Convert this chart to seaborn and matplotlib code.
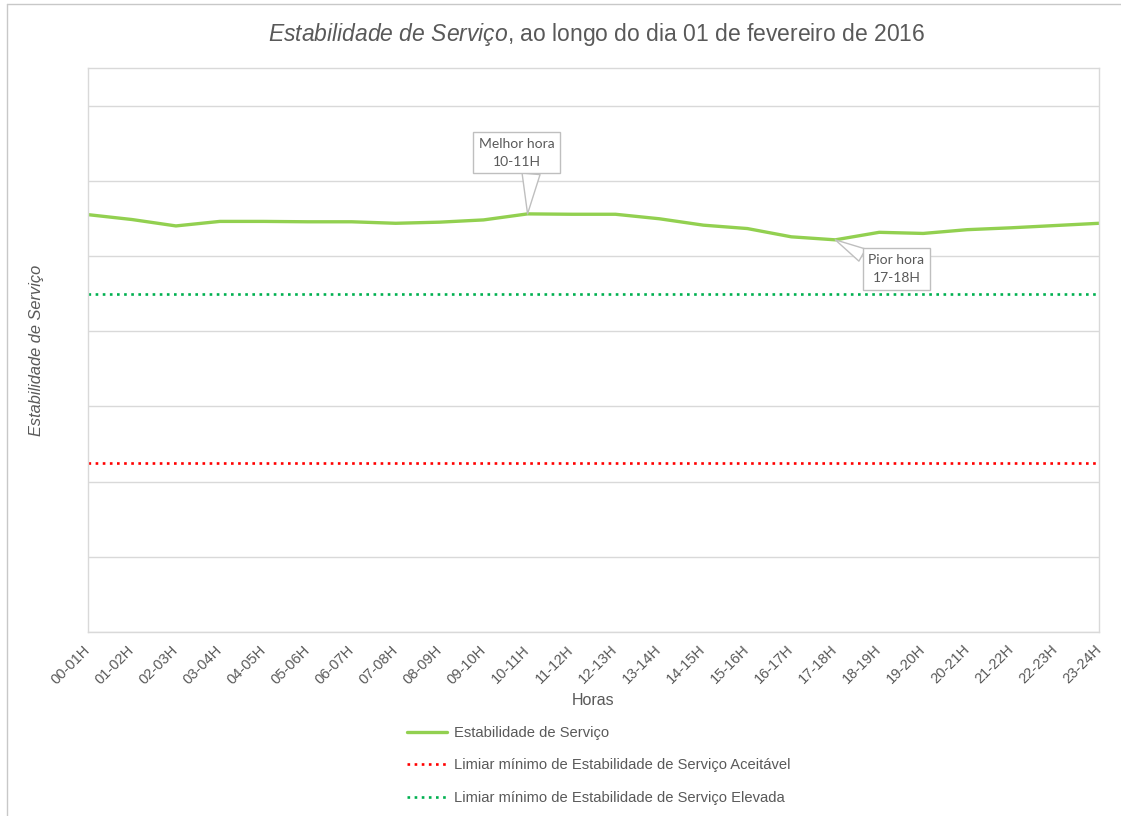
import matplotlib
matplotlib.use("Agg")
import matplotlib.pyplot as plt
from matplotlib.lines import Line2D
import numpy as np
import pandas as pd
import seaborn as sns

# ---------------------------------------------------------------------------
# data
# ---------------------------------------------------------------------------
horas = ["00-01H", "01-02H", "02-03H", "03-04H", "04-05H", "05-06H",
         "06-07H", "07-08H", "08-09H", "09-10H", "10-11H", "11-12H",
         "12-13H", "13-14H", "14-15H", "15-16H", "16-17H", "17-18H",
         "18-19H", "19-20H", "20-21H", "21-22H", "22-23H", "23-24H"]
estabilidade = [111.0, 109.7, 108.0, 109.2, 109.2, 109.1, 109.1, 108.7,
                109.0, 109.6, 111.2, 111.1, 111.1, 109.9, 108.2, 107.3,
                105.1, 104.3, 106.3, 106.0, 107.0, 107.5, 108.1, 108.7]
limiar_aceitavel = 45
limiar_elevada = 90
y_max = 150
y_step = 20

TXT = "#595959"
GRID = "#d9d9d9"

sns.set_theme(style="white")
plt.rcParams["font.family"] = ["Liberation Sans", "DejaVu Sans"]
plt.rcParams["mathtext.fontset"] = "custom"
plt.rcParams["mathtext.rm"] = "Liberation Sans"
plt.rcParams["mathtext.it"] = "Liberation Sans:italic"

df = pd.DataFrame({"pos": np.arange(len(horas)), "hora": horas,
                   "valor": estabilidade})

fig = plt.figure(figsize=(11.21, 8.16), dpi=100)
ax = fig.add_axes([88 / 1121, 1 - 632 / 816, 1011 / 1121, 564 / 816])

ax.set_yticks(np.arange(0, y_max, y_step))
ax.yaxis.grid(True, color=GRID, linewidth=1)
ax.set_axisbelow(True)

sns.lineplot(data=df, x="pos", y="valor", color="#92d050", linewidth=2.4,
             ax=ax, label="Estabilidade de Serviço")
ax.axhline(limiar_aceitavel, color="#ff0000", linewidth=1.9,
           linestyle=(0, (1, 1.7)),
           label="Limiar mínimo de Estabilidade de Serviço Aceitável")
ax.axhline(limiar_elevada, color="#00b050", linewidth=1.9,
           linestyle=(0, (1, 1.7)),
           label="Limiar mínimo de Estabilidade de Serviço Elevada")

ax.set_xlim(0, len(horas) - 1)
ax.set_ylim(0, y_max)
ax.set_xticks(df["pos"])
ax.set_xticklabels(horas, rotation=45, ha="right", va="center",
                   rotation_mode="anchor", fontsize=10.5, color=TXT)
ax.tick_params(axis="x", length=3, width=1, color=GRID, pad=8.2)
ax.tick_params(axis="y", length=0, labelleft=False)
for sp in ax.spines.values():
    sp.set_color(GRID)
    sp.set_linewidth(1)

ax.set_xlabel("Horas", fontsize=11.5, color=TXT)
ax.xaxis.set_label_coords(0.5, -0.108)
ax.set_ylabel("Estabilidade de Serviço", fontsize=11.8, color=TXT,
              style="italic")
ax.yaxis.set_label_coords(-0.0435, 0.5)

# callouts for best and worst hour
melhor = int(np.argmax(estabilidade))
pior = int(np.argmin(estabilidade))
box = dict(boxstyle="square,pad=0.4", fc="white", ec="#bfbfbf", lw=1)
ax.annotate(f"Melhor hora\n{horas[melhor]}", xy=(melhor, estabilidade[melhor]),
            xytext=(-8, 44), textcoords="offset points", ha="center",
            va="center", fontsize=10, color=TXT, family="Lato",
            linespacing=1.6, bbox=box,
            arrowprops=dict(arrowstyle="wedge,tail_width=1.3", fc="white",
                            ec="#bfbfbf", lw=1, relpos=(0.7, 0),
                            shrinkA=0, shrinkB=0))
ax.annotate(f"Pior hora\n{horas[pior]}", xy=(pior, estabilidade[pior]),
            xytext=(44, -21), textcoords="offset points", ha="center",
            va="center", fontsize=10, color=TXT, family="Lato",
            linespacing=1.6, bbox=box,
            arrowprops=dict(arrowstyle="wedge,tail_width=1.0", fc="white",
                            ec="#bfbfbf", lw=1, relpos=(0, 0.85),
                            shrinkA=0, shrinkB=0))

fig.text(597 / 1121, 1 - 35 / 816,
         r"$\mathit{Estabilidade\ de\ Serviço}$, ao longo do dia 01 de fevereiro de 2016",
         ha="center", va="center", fontsize=16.5, color=TXT)

leg = ax.legend(loc="upper left", bbox_to_anchor=(407 / 1121, 1 - 726 / 816),
                bbox_transform=fig.transFigure, frameon=False, fontsize=10.6,
                handlelength=2.75, handletextpad=0.45, labelspacing=1.25,
                borderpad=0, borderaxespad=0)
for t in leg.get_texts():
    t.set_color(TXT)

# outer chart-area border (left and top edges visible in the crop)
fig.add_artist(Line2D([7 / 1121, 7 / 1121], [0, 1 - 4 / 816],
                      transform=fig.transFigure, color="#c8c8c8", lw=1))
fig.add_artist(Line2D([7 / 1121, 1], [1 - 4 / 816, 1 - 4 / 816],
                      transform=fig.transFigure, color="#c8c8c8", lw=1))

fig.savefig("out.png", dpi=100)
